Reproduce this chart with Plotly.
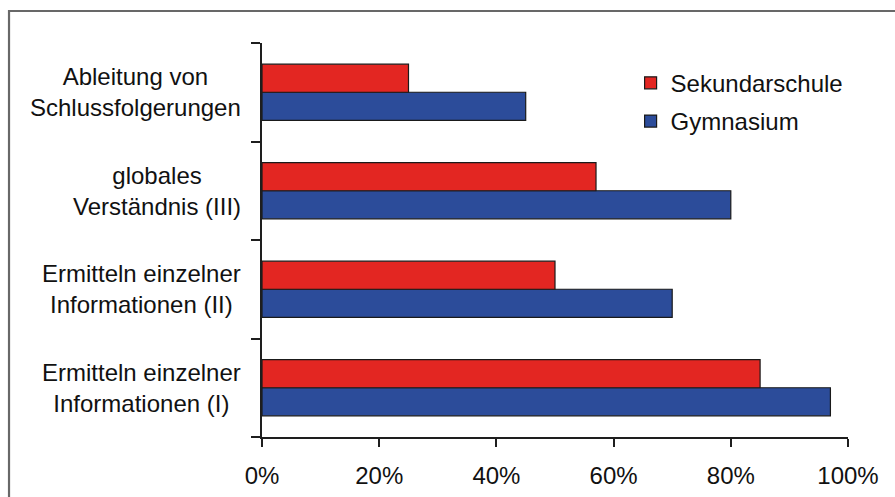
import plotly.graph_objects as go

# Kategorien von unten nach oben (erste Kategorie liegt unten)
categories = [
    "Ermitteln einzelner<br>Informationen (I)",
    "Ermitteln einzelner<br>Informationen (II)",
    "globales<br>Verständnis (III)",
    "Ableitung von<br>Schlussfolgerungen",
]
sekundarschule = [0.85, 0.50, 0.57, 0.25]
gymnasium = [0.97, 0.70, 0.80, 0.45]
x_ticks = [0, 0.2, 0.4, 0.6, 0.8, 1.0]

FONT = "Liberation Sans, Arial, sans-serif"
AXIS_COLOR = "#1e1e1e"

fig = go.Figure()
# Gymnasium zuerst: bei gruppierten Querbalken liegt die erste Spur unten
fig.add_trace(go.Bar(
    y=categories, x=gymnasium, orientation="h", name="Gymnasium",
    legendgroup="g", legendrank=2,
    marker=dict(color="#2c4c9a", line=dict(color="#1a1a1a", width=1.2)),
))
fig.add_trace(go.Bar(
    y=categories, x=sekundarschule, orientation="h", name="Sekundarschule",
    legendgroup="s", legendrank=1,
    marker=dict(color="#e32622", line=dict(color="#1a1a1a", width=1.2)),
))

# Zentrierte, mehrzeilige Kategoriebeschriftungen links der Achse
for c in categories:
    fig.add_annotation(
        x=0, xref="paper", y=c, yref="y", text=c, showarrow=False,
        xanchor="right", yanchor="middle", align="center", xshift=-19,
        font=dict(family=FONT, size=24, color="#111"),
    )

# Rahmen um das Diagramm
fig.add_shape(
    type="rect", xref="paper", yref="paper",
    x0=-0.4317, x1=1.3, y0=-0.4, y1=1.0812,
    line=dict(color="#686868", width=2.2), fillcolor="rgba(0,0,0,0)", layer="below",
)

fig.update_layout(
    width=895, height=497,
    margin=dict(l=262, r=47, t=43, b=60),
    paper_bgcolor="white", plot_bgcolor="white",
    barmode="group", bargap=0.43, bargroupgap=0,
    font=dict(family=FONT, size=24, color="#111"),
    legend=dict(
        x=0.629, y=0.955, xanchor="left", yanchor="top",
        traceorder="grouped", tracegroupgap=4,
        font=dict(family=FONT, size=24, color="#111"),
        bgcolor="rgba(0,0,0,0)",
    ),
    xaxis=dict(
        range=[0, 1], tickvals=x_ticks, tickformat=".0%",
        automargin=False,
        showgrid=False, zeroline=False, showline=True,
        linecolor=AXIS_COLOR, linewidth=1.5,
        ticks="outside", ticklen=8, tickwidth=1.5, tickcolor=AXIS_COLOR,
        ticklabelstandoff=8,
        tickfont=dict(family=FONT, size=24, color="#111"),
    ),
    yaxis=dict(
        type="category", categoryorder="array", categoryarray=categories,
        automargin=False,
        showticklabels=False, showgrid=False, zeroline=False,
        showline=True, linecolor=AXIS_COLOR, linewidth=1.5,
        ticks="outside", tickson="boundaries", ticklen=9, tickwidth=1.5,
        tickcolor=AXIS_COLOR,
    ),
)

fig.write_html("out.html")
